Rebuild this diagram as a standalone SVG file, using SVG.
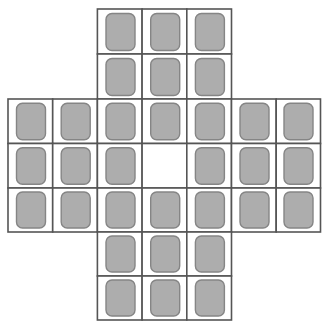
<svg xmlns="http://www.w3.org/2000/svg" width="322" height="321" viewBox="0 0 322 321">
<style>
.cell{fill:#ffffff;stroke:#555555;stroke-width:1.6}
.peg{fill:#adadad;stroke:#858585;stroke-width:1.4}
</style>
<rect width="322" height="321" fill="#ffffff"/>
<g id="board">
<!-- row 0 -->
<rect class="cell" x="97.4" y="9" width="44.7" height="45"/>
<rect class="cell" x="142.1" y="9" width="44.7" height="45"/>
<rect class="cell" x="186.8" y="9" width="44.7" height="45"/>
<!-- row 1 -->
<rect class="cell" x="97.4" y="54" width="44.7" height="45"/>
<rect class="cell" x="142.1" y="54" width="44.7" height="45"/>
<rect class="cell" x="186.8" y="54" width="44.7" height="45"/>
<!-- row 2 -->
<rect class="cell" x="8" y="99" width="44.7" height="44.5"/>
<rect class="cell" x="52.7" y="99" width="44.7" height="44.5"/>
<rect class="cell" x="97.4" y="99" width="44.7" height="44.5"/>
<rect class="cell" x="142.1" y="99" width="44.7" height="44.5"/>
<rect class="cell" x="186.8" y="99" width="44.7" height="44.5"/>
<rect class="cell" x="231.5" y="99" width="44.7" height="44.5"/>
<rect class="cell" x="276.2" y="99" width="44.3" height="44.5"/>
<!-- row 3 -->
<rect class="cell" x="8" y="143.5" width="44.7" height="44.5"/>
<rect class="cell" x="52.7" y="143.5" width="44.7" height="44.5"/>
<rect class="cell" x="97.4" y="143.5" width="44.7" height="44.5"/>
<rect class="cell" x="142.1" y="143.5" width="44.7" height="44.5"/>
<rect class="cell" x="186.8" y="143.5" width="44.7" height="44.5"/>
<rect class="cell" x="231.5" y="143.5" width="44.7" height="44.5"/>
<rect class="cell" x="276.2" y="143.5" width="44.3" height="44.5"/>
<!-- row 4 -->
<rect class="cell" x="8" y="188" width="44.7" height="44"/>
<rect class="cell" x="52.7" y="188" width="44.7" height="44"/>
<rect class="cell" x="97.4" y="188" width="44.7" height="44"/>
<rect class="cell" x="142.1" y="188" width="44.7" height="44"/>
<rect class="cell" x="186.8" y="188" width="44.7" height="44"/>
<rect class="cell" x="231.5" y="188" width="44.7" height="44"/>
<rect class="cell" x="276.2" y="188" width="44.3" height="44"/>
<!-- row 5 -->
<rect class="cell" x="97.4" y="232" width="44.7" height="44"/>
<rect class="cell" x="142.1" y="232" width="44.7" height="44"/>
<rect class="cell" x="186.8" y="232" width="44.7" height="44"/>
<!-- row 6 -->
<rect class="cell" x="97.4" y="276" width="44.7" height="44"/>
<rect class="cell" x="142.1" y="276" width="44.7" height="44"/>
<rect class="cell" x="186.8" y="276" width="44.7" height="44"/>
</g>
<g id="pegs">
<!-- row 0 -->
<rect class="peg" x="106" y="13.5" width="29" height="37" rx="6"/>
<rect class="peg" x="150.7" y="13.5" width="29" height="37" rx="6"/>
<rect class="peg" x="195.4" y="13.5" width="29" height="37" rx="6"/>
<!-- row 1 -->
<rect class="peg" x="106" y="58.5" width="29" height="37" rx="6"/>
<rect class="peg" x="150.7" y="58.5" width="29" height="37" rx="6"/>
<rect class="peg" x="195.4" y="58.5" width="29" height="37" rx="6"/>
<!-- row 2 -->
<rect class="peg" x="16.5" y="103.3" width="29" height="36.5" rx="6"/>
<rect class="peg" x="61.2" y="103.3" width="29" height="36.5" rx="6"/>
<rect class="peg" x="106" y="103.3" width="29" height="36.5" rx="6"/>
<rect class="peg" x="150.7" y="103.3" width="29" height="36.5" rx="6"/>
<rect class="peg" x="195.4" y="103.3" width="29" height="36.5" rx="6"/>
<rect class="peg" x="240" y="103.3" width="29" height="36.5" rx="6"/>
<rect class="peg" x="284" y="103.3" width="29" height="36.5" rx="6"/>
<!-- row 3 -->
<rect class="peg" x="16.5" y="147.8" width="29" height="36.5" rx="6"/>
<rect class="peg" x="61.2" y="147.8" width="29" height="36.5" rx="6"/>
<rect class="peg" x="106" y="147.8" width="29" height="36.5" rx="6"/>
<rect class="peg" x="195.4" y="147.8" width="29" height="36.5" rx="6"/>
<rect class="peg" x="240" y="147.8" width="29" height="36.5" rx="6"/>
<rect class="peg" x="284" y="147.8" width="29" height="36.5" rx="6"/>
<!-- row 4 -->
<rect class="peg" x="16.5" y="192" width="29" height="36" rx="6"/>
<rect class="peg" x="61.2" y="192" width="29" height="36" rx="6"/>
<rect class="peg" x="106" y="192" width="29" height="36" rx="6"/>
<rect class="peg" x="150.7" y="192" width="29" height="36" rx="6"/>
<rect class="peg" x="195.4" y="192" width="29" height="36" rx="6"/>
<rect class="peg" x="240" y="192" width="29" height="36" rx="6"/>
<rect class="peg" x="284" y="192" width="29" height="36" rx="6"/>
<!-- row 5 -->
<rect class="peg" x="106" y="236" width="29" height="36" rx="6"/>
<rect class="peg" x="150.7" y="236" width="29" height="36" rx="6"/>
<rect class="peg" x="195.4" y="236" width="29" height="36" rx="6"/>
<!-- row 6 -->
<rect class="peg" x="106" y="280" width="29" height="36" rx="6"/>
<rect class="peg" x="150.7" y="280" width="29" height="36" rx="6"/>
<rect class="peg" x="195.4" y="280" width="29" height="36" rx="6"/>
</g>
</svg>
